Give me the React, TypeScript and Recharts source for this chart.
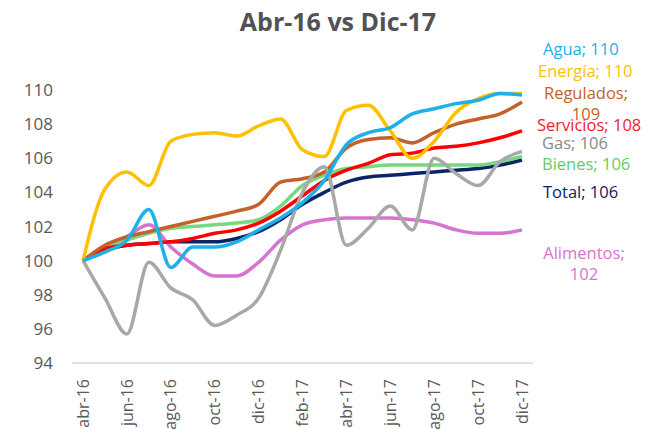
import React from "react";
import { LineChart, Line, XAxis, YAxis } from "recharts";

const months = [
  "abr-16", "may-16", "jun-16", "jul-16", "ago-16", "sep-16", "oct-16",
  "nov-16", "dic-16", "ene-17", "feb-17", "mar-17", "abr-17", "may-17",
  "jun-17", "jul-17", "ago-17", "sep-17", "oct-17", "nov-17", "dic-17",
];

const total = [100, 100.6, 100.9, 101.0, 101.1, 101.1, 101.1, 101.3, 101.7, 102.4, 103.3, 104.0, 104.6, 104.9, 105.0, 105.1, 105.2, 105.3, 105.4, 105.6, 105.9];
const alimentos = [100, 100.6, 101.4, 102.1, 100.8, 99.8, 99.1, 99.1, 99.9, 101.2, 102.1, 102.4, 102.5, 102.5, 102.5, 102.4, 102.2, 101.8, 101.6, 101.6, 101.8];
const bienes = [100, 100.7, 101.2, 101.6, 101.9, 102.0, 102.1, 102.2, 102.4, 103.2, 104.4, 105.0, 105.4, 105.5, 105.6, 105.6, 105.6, 105.6, 105.6, 105.8, 106.1];
const servicios = [100, 100.7, 100.9, 101.0, 101.1, 101.3, 101.6, 101.8, 102.2, 102.9, 103.8, 104.7, 105.3, 105.7, 106.2, 106.3, 106.6, 106.7, 106.9, 107.2, 107.6];
const regulados = [100, 100.9, 101.4, 101.7, 102.0, 102.3, 102.6, 102.9, 103.3, 104.6, 104.8, 105.2, 106.6, 107.1, 107.2, 106.9, 107.5, 108.0, 108.3, 108.6, 109.3];
const energia = [100, 104.2, 105.2, 104.4, 107.0, 107.4, 107.5, 107.3, 107.9, 108.3, 106.5, 106.1, 108.8, 109.1, 107.6, 106.0, 107.0, 108.7, 109.5, 109.8, 109.8];
const gas = [100, 97.8, 95.7, 99.9, 98.4, 97.7, 96.2, 96.8, 97.8, 100.6, 104.0, 105.5, 100.9, 101.9, 103.2, 101.8, 106.0, 105.1, 104.4, 105.8, 106.4];
const agua = [100, 100.5, 101.2, 103.0, 99.6, 100.8, 100.8, 101.1, 101.8, 102.5, 103.4, 104.7, 106.8, 107.5, 107.8, 108.6, 108.9, 109.2, 109.4, 109.8, 109.7];

const yTicks = [94, 96, 98, 100, 102, 104, 106, 108, 110];

const data = months.map((m, i) => ({
  mes: m,
  Total: total[i],
  Alimentos: alimentos[i],
  Bienes: bienes[i],
  Servicios: servicios[i],
  Regulados: regulados[i],
  "Energía": energia[i],
  Gas: gas[i],
  Agua: agua[i],
}));

// draw order, colours, and where the end label sits relative to the last point
const series = [
  { key: "Total", color: "#0b2464", text: "#0b2464", dx: 21, dy: 32, lines: 1 },
  { key: "Alimentos", color: "#d574d1", text: "#d574d1", dx: 62, dy: 22, lines: 2 },
  { key: "Bienes", color: "#78d882", text: "#5ccf68", dx: 20, dy: 7, lines: 1 },
  { key: "Servicios", color: "#ff0000", text: "#ee1c2e", dx: 15, dy: -6, lines: 1 },
  { key: "Regulados", color: "#c4612a", text: "#c4612a", dx: 64, dy: -10, lines: 2 },
  { key: "Energía", color: "#ffc000", text: "#ffc000", dx: 16, dy: -23, lines: 1 },
  { key: "Gas", color: "#a8a8a8", text: "#8a8a8a", dx: 20, dy: -9, lines: 1 },
  { key: "Agua", color: "#1cb1e9", text: "#1cb1e9", dx: 21, dy: -47, lines: 1 },
];

const FONT = "'Open Sans', 'Noto Sans', sans-serif";

const endLabel = (s: (typeof series)[number]) => (props: any) => {
  const { x, y, index, value } = props;
  if (index !== months.length - 1) return null;
  const v = Math.round(value);
  if (s.lines === 2) {
    return (
      <text x={x + s.dx} y={y + s.dy} fill={s.text} fontSize={16.5} fontFamily={FONT} textAnchor="middle" dominantBaseline="central">
        <tspan x={x + s.dx}>{s.key};</tspan>
        <tspan x={x + s.dx} dy={21}>{v}</tspan>
      </text>
    );
  }
  return (
    <text x={x + s.dx} y={y + s.dy} fill={s.text} fontSize={16.5} fontFamily={FONT} dominantBaseline="central">
      {`${s.key}; ${v}`}
    </text>
  );
};

const MonthTick = (props: any) => {
  const { x, y, payload } = props;
  return (
    <g transform={`translate(${x},${y})`}>
      <text transform="rotate(-90)" textAnchor="end" dy="0.35em" fill="#595959" fontSize={16} fontFamily={FONT}>
        {payload.value}
      </text>
    </g>
  );
};

export default function App() {
  return (
    <div style={{ position: "absolute", left: 0, top: 0, width: 664, height: 429, background: "#fff" }}>
      <div
        style={{
          position: "absolute",
          left: 6,
          top: 4,
          width: 664,
          textAlign: "center",
          fontFamily: FONT,
          fontWeight: 700,
          fontSize: 25,
          color: "#525252",
        }}
      >
        Abr-16 vs Dic-17
      </div>
      <LineChart width={664} height={429} data={data} margin={{ top: 90, right: 131, bottom: 0, left: 10 }}>
        <XAxis
          dataKey="mes"
          interval={1}
          height={66}
          padding={{ left: 11, right: 11 }}
          tickLine={false}
          axisLine={{ stroke: "#d9d9d9", strokeWidth: 1.5 }}
          tick={<MonthTick />}
          tickMargin={10}
        />
        <YAxis
          domain={[94, 110]}
          ticks={yTicks}
          width={62}
          axisLine={false}
          tickLine={false}
          tickSize={0}
          tickMargin={19}
          tick={{ fill: "#595959", fontSize: 17, fontFamily: FONT }}
        />
        {series.map((s) => (
          <Line
            key={s.key}
            type="monotone"
            dataKey={s.key}
            stroke={s.color}
            strokeWidth={3.5}
            dot={false}
            isAnimationActive={false}
            label={endLabel(s)}
          />
        ))}
      </LineChart>
    </div>
  );
}
